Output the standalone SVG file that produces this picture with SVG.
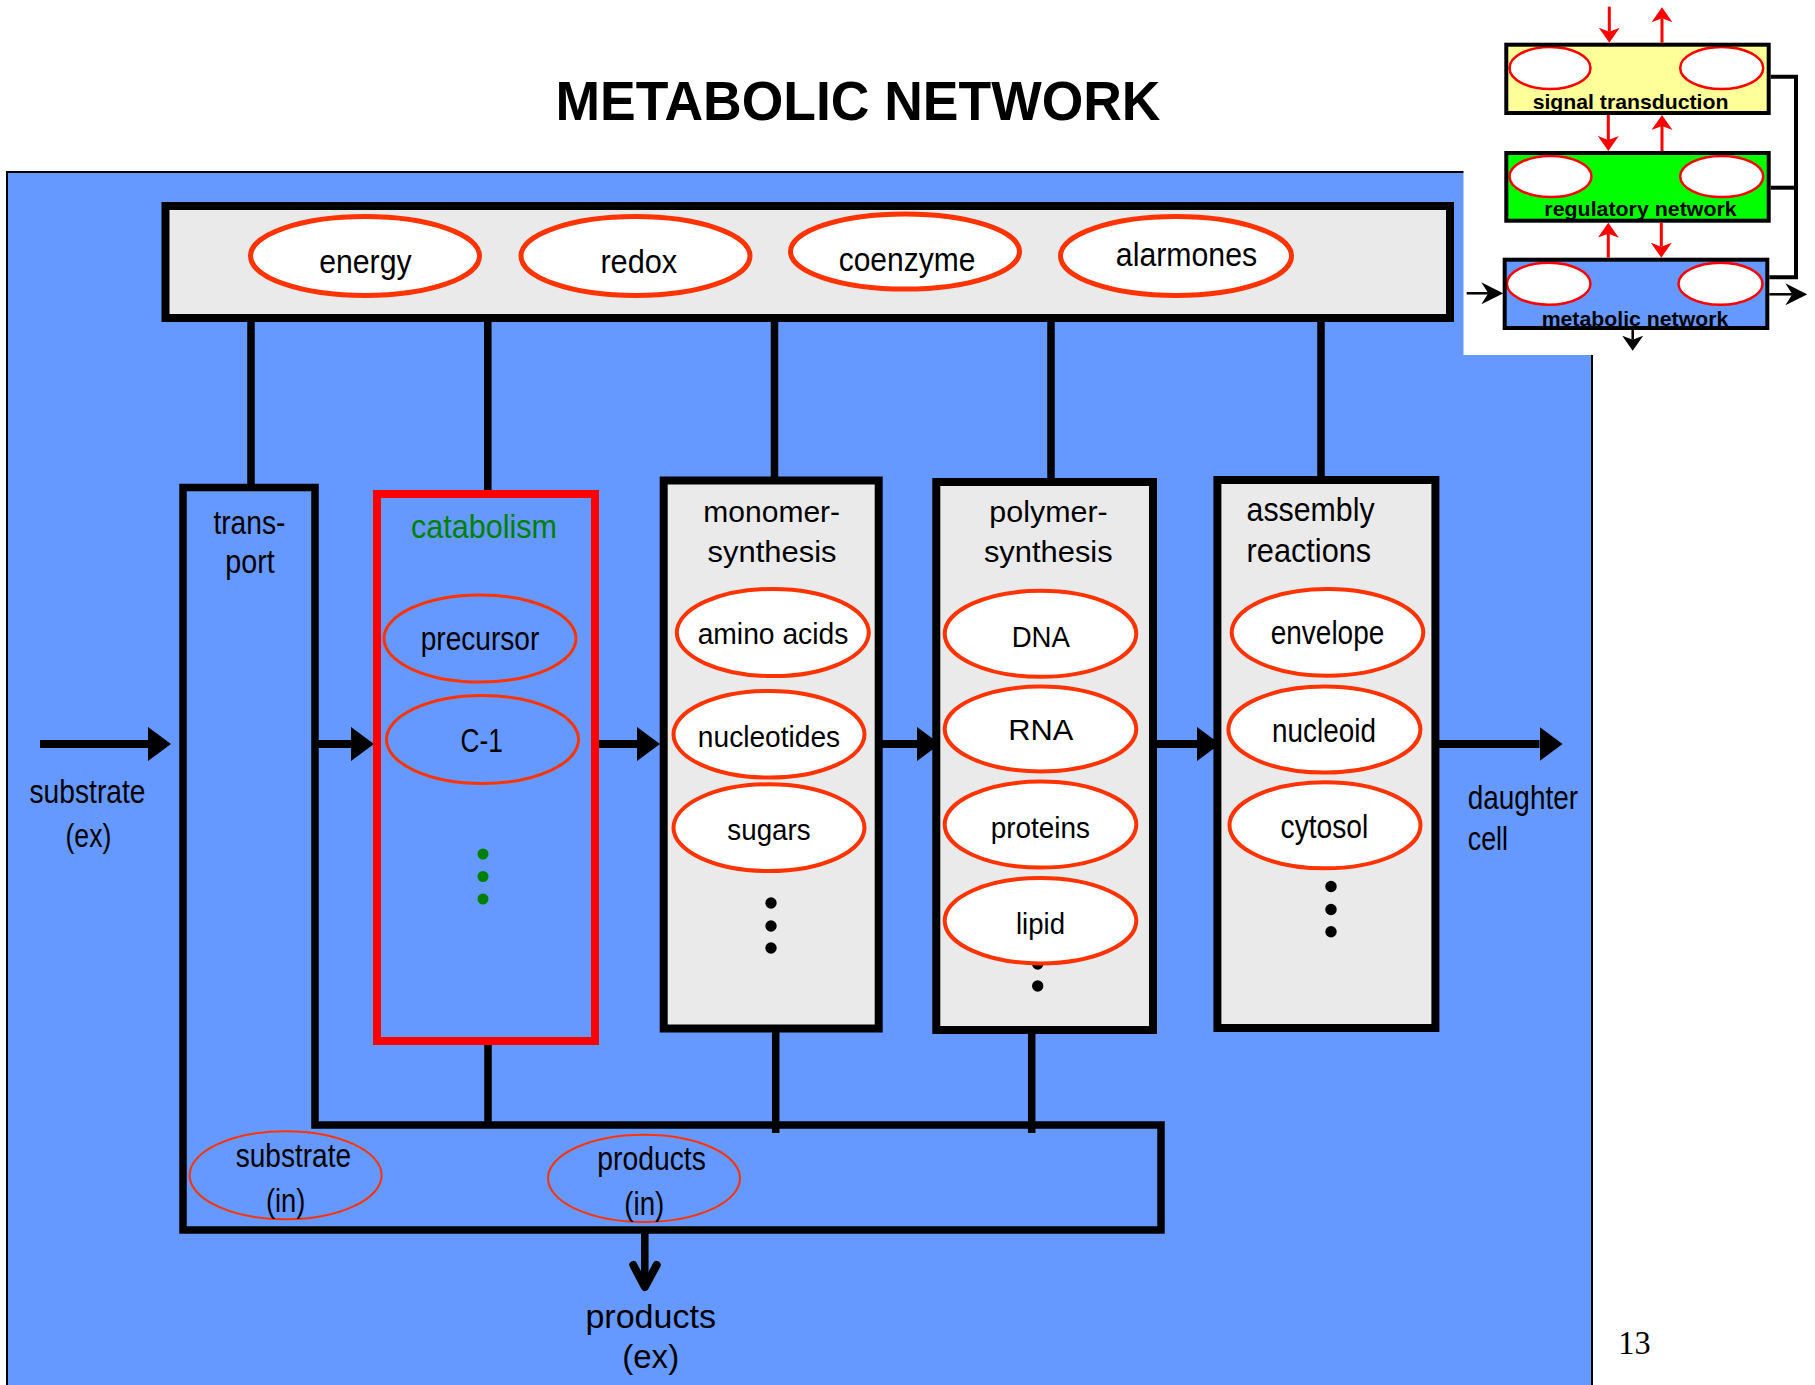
<svg xmlns="http://www.w3.org/2000/svg" width="1815" height="1385" viewBox="0 0 1815 1385">
<defs>
<style>
.lbl{font-family:"Liberation Sans",Arial,sans-serif;font-size:30px;fill:#000;text-anchor:middle}
.cnd{font-size:34px}
.lft{text-anchor:start}
.grn{fill:#008000}
.ln{stroke:#000;stroke-width:7.5;fill:none}
.box{fill:#EAEAEA;stroke:#000;stroke-width:8}
.ov{fill:#fff;stroke:#FF3300;stroke-width:4}
.ovt{fill:#fff;stroke:#FF3300;stroke-width:5}
.ovn{fill:none;stroke:#FF3300;stroke-width:3}
.ovb{fill:none;stroke:#FF3300;stroke-width:2}
.dot{fill:#000}
.gdot{fill:#008000}
.arr{stroke:#000;stroke-width:8;fill:none;marker-end:url(#ah)}
.ra{stroke:#FF0000;stroke-width:3;fill:none;marker-end:url(#rh)}
.ba{stroke:#000;stroke-width:2.5;fill:none;marker-end:url(#bh)}
.bs{stroke:#000;stroke-width:2.5;fill:none;marker-end:url(#bsh)}
.ib{stroke:#000;stroke-width:4;fill:none}
.iov{fill:#fff;stroke:#FF0000;stroke-width:2.5}
.it{font-family:"Liberation Sans",Arial,sans-serif;font-weight:bold;font-size:21px;text-anchor:middle;fill:#000}
</style>
<marker id="ah" viewBox="0 0 23 34" refX="0" refY="17" markerWidth="23" markerHeight="34" orient="auto" markerUnits="userSpaceOnUse"><path d="M0,0 L23,17 L0,34 Z" fill="#000"/></marker>
<marker id="rh" viewBox="0 0 15 21" refX="4" refY="10.5" markerWidth="15" markerHeight="21" orient="auto" markerUnits="userSpaceOnUse"><path d="M0,0 L15,10.5 L0,21 L4,10.5 Z" fill="#FF0000"/></marker>
<marker id="bh" viewBox="0 0 22 22" refX="7" refY="11" markerWidth="22" markerHeight="22" orient="auto" markerUnits="userSpaceOnUse"><path d="M0,0 L22,11 L0,22 L7,11 Z" fill="#000"/></marker>
<marker id="bsh" viewBox="0 0 15 21" refX="4" refY="10.5" markerWidth="15" markerHeight="21" orient="auto" markerUnits="userSpaceOnUse"><path d="M0,0 L15,10.5 L0,21 L4,10.5 Z" fill="#000"/></marker>
</defs>

<rect x="0" y="0" width="1815" height="1385" fill="#fff"/>
<g id="background">
<rect x="7" y="172" width="1585" height="1240" fill="#6699FF" stroke="#000" stroke-width="2"/>
<rect x="1463.5" y="0" width="352" height="355" fill="#fff"/>
</g>

<text id="title" x="858" y="120" font-family="'Liberation Sans',Arial,sans-serif" font-weight="bold" font-size="56" text-anchor="middle" textLength="605" lengthAdjust="spacingAndGlyphs">METABOLIC NETWORK</text>

<g id="connectors">
<line class="ln" x1="251" y1="320" x2="251" y2="485"/>
<line class="ln" x1="487.8" y1="320" x2="487.8" y2="491"/>
<line class="ln" x1="774.5" y1="320" x2="774.5" y2="478"/>
<line class="ln" x1="1051" y1="320" x2="1051" y2="480"/>
<line class="ln" x1="1321" y1="320" x2="1321" y2="478"/>
<line class="ln" x1="488" y1="1043" x2="488" y2="1125"/>
<line class="ln" x1="775.7" y1="1030" x2="775.7" y2="1133"/>
<line class="ln" x1="1031.7" y1="1032" x2="1031.7" y2="1133"/>
<line class="arr" x1="40" y1="744" x2="148" y2="744"/>
<line class="arr" x1="315" y1="744" x2="351" y2="744"/>
<line class="arr" x1="599" y1="744" x2="637" y2="744"/>
<line class="arr" x1="882" y1="744" x2="917" y2="744"/>
<line class="arr" x1="1157" y1="744" x2="1197" y2="744"/>
<line class="arr" x1="1439" y1="744" x2="1539.5" y2="744"/>
<line class="ln" x1="644.8" y1="1232" x2="644.8" y2="1284" stroke-width="8"/>
<polyline points="633.3,1265 644.8,1287 656.7,1265" fill="none" stroke="#000" stroke-width="8" stroke-linecap="round" stroke-linejoin="round"/>
</g>

<g id="cofactors">
<rect class="box" x="165.5" y="206" width="1284.5" height="112"/>
<ellipse class="ovt" cx="365" cy="256" rx="114.5" ry="39.5"/>
<text class="lbl cnd" x="365.4" y="273.3" textLength="92.4" lengthAdjust="spacingAndGlyphs">energy</text>
<ellipse class="ovt" cx="635.5" cy="256" rx="114.5" ry="39.5"/>
<text class="lbl cnd" x="638.8" y="273.3" textLength="76.8" lengthAdjust="spacingAndGlyphs">redox</text>
<ellipse class="ovt" cx="905" cy="251.5" rx="114.5" ry="37.5"/>
<text class="lbl cnd" x="907" y="271" textLength="136.7" lengthAdjust="spacingAndGlyphs">coenzyme</text>
<ellipse class="ovt" cx="1176" cy="256" rx="115.5" ry="39.5"/>
<text class="lbl cnd" x="1186.5" y="266" textLength="141.3" lengthAdjust="spacingAndGlyphs">alarmones</text>
</g>

<g id="transport">
<path d="M183,487.5 H315 V1125 H1161 V1230 H183 Z" fill="none" stroke="#000" stroke-width="7.5"/>
<text class="lbl cnd" x="249.4" y="534" textLength="72" lengthAdjust="spacingAndGlyphs">trans-</text>
<text class="lbl cnd" x="250" y="573" textLength="49.4" lengthAdjust="spacingAndGlyphs">port</text>
</g>

<g id="catabolism">
<rect x="377" y="494" width="218" height="547" fill="none" stroke="#FF0000" stroke-width="8"/>
<text class="lbl cnd grn" x="484" y="538" textLength="146" lengthAdjust="spacingAndGlyphs">catabolism</text>
<ellipse class="ovn" cx="480" cy="638.5" rx="96" ry="43.5"/>
<text class="lbl cnd" x="480" y="650" textLength="118.6" lengthAdjust="spacingAndGlyphs">precursor</text>
<ellipse class="ovn" cx="482.5" cy="739.5" rx="96" ry="44"/>
<text class="lbl cnd" x="481.6" y="752" textLength="42.3" lengthAdjust="spacingAndGlyphs">C-1</text>
<circle class="gdot" cx="483" cy="854" r="5.5"/>
<circle class="gdot" cx="483" cy="876.5" r="5.5"/>
<circle class="gdot" cx="483" cy="899" r="5.5"/>
</g>

<g id="monomer-synthesis">
<rect class="box" x="663.7" y="480.5" width="215" height="548"/>
<text class="lbl" x="771.7" y="521.7" textLength="136.7" lengthAdjust="spacingAndGlyphs">monomer-</text>
<text class="lbl" x="772" y="562" textLength="129" lengthAdjust="spacingAndGlyphs">synthesis</text>
<ellipse class="ov" cx="772.8" cy="632.5" rx="96" ry="43.6"/>
<text class="lbl" x="773" y="644.3" textLength="150.7" lengthAdjust="spacingAndGlyphs">amino acids</text>
<ellipse class="ov" cx="769" cy="734.3" rx="95.5" ry="43.3"/>
<text class="lbl" x="769" y="746.6" textLength="142.3" lengthAdjust="spacingAndGlyphs">nucleotides</text>
<ellipse class="ov" cx="769" cy="827.7" rx="95.5" ry="43.4"/>
<text class="lbl" x="769" y="839.7" textLength="83.3" lengthAdjust="spacingAndGlyphs">sugars</text>
<circle class="dot" cx="771" cy="903" r="5.7"/>
<circle class="dot" cx="771" cy="926" r="5.7"/>
<circle class="dot" cx="771" cy="948" r="5.7"/>
</g>

<g id="polymer-synthesis">
<rect class="box" x="936.3" y="482" width="216.7" height="548"/>
<text class="lbl" x="1048.5" y="521.7" textLength="118.3" lengthAdjust="spacingAndGlyphs">polymer-</text>
<text class="lbl" x="1048.3" y="562" textLength="128.7" lengthAdjust="spacingAndGlyphs">synthesis</text>
<circle class="dot" cx="1037.7" cy="942" r="5.7"/>
<circle class="dot" cx="1037.7" cy="964" r="5.7"/>
<circle class="dot" cx="1037.7" cy="986" r="5.7"/>
<ellipse class="ov" cx="1040.5" cy="633.8" rx="95.8" ry="43"/>
<text class="lbl" x="1040.8" y="647" textLength="58.3" lengthAdjust="spacingAndGlyphs">DNA</text>
<ellipse class="ov" cx="1040.5" cy="729" rx="95.8" ry="42.4"/>
<text class="lbl" x="1040.8" y="740" textLength="65" lengthAdjust="spacingAndGlyphs">RNA</text>
<ellipse class="ov" cx="1040.5" cy="824.6" rx="95.8" ry="43"/>
<text class="lbl" x="1040.3" y="837.8" textLength="99.3" lengthAdjust="spacingAndGlyphs">proteins</text>
<ellipse class="ov" cx="1040.5" cy="920.7" rx="95.8" ry="42.7"/>
<text class="lbl" x="1040.5" y="933.6" textLength="49" lengthAdjust="spacingAndGlyphs">lipid</text>
</g>

<g id="assembly-reactions">
<rect class="box" x="1217.4" y="480" width="218" height="548"/>
<text class="lbl cnd lft" x="1246.6" y="521" textLength="128" lengthAdjust="spacingAndGlyphs">assembly</text>
<text class="lbl cnd lft" x="1246.6" y="562" textLength="124.6" lengthAdjust="spacingAndGlyphs">reactions</text>
<ellipse class="ov" cx="1327.5" cy="632.3" rx="95.8" ry="43.4"/>
<text class="lbl cnd" x="1327.5" y="644.3" textLength="113.5" lengthAdjust="spacingAndGlyphs">envelope</text>
<ellipse class="ov" cx="1324.4" cy="729.6" rx="96" ry="43"/>
<text class="lbl cnd" x="1324" y="742" textLength="103.8" lengthAdjust="spacingAndGlyphs">nucleoid</text>
<ellipse class="ov" cx="1325" cy="825.3" rx="95.5" ry="43"/>
<text class="lbl cnd" x="1324.4" y="837.8" textLength="87.7" lengthAdjust="spacingAndGlyphs">cytosol</text>
<circle class="dot" cx="1331" cy="886.5" r="5.7"/>
<circle class="dot" cx="1331" cy="909.5" r="5.7"/>
<circle class="dot" cx="1331" cy="931.7" r="5.7"/>
</g>

<g id="substrate-ex">
<text class="lbl cnd" x="87.5" y="803" textLength="116" lengthAdjust="spacingAndGlyphs">substrate</text>
<text class="lbl cnd" x="88.4" y="847.4" textLength="46" lengthAdjust="spacingAndGlyphs">(ex)</text>
</g>

<g id="daughter-cell">
<text class="lbl cnd lft" x="1467.8" y="809" textLength="110.2" lengthAdjust="spacingAndGlyphs">daughter</text>
<text class="lbl cnd lft" x="1467.8" y="850" textLength="40.2" lengthAdjust="spacingAndGlyphs">cell</text>
</g>

<g id="substrate-in">
<ellipse class="ovb" cx="285.6" cy="1175.3" rx="96" ry="44"/>
<text class="lbl cnd" x="293.4" y="1167.3" textLength="115.3" lengthAdjust="spacingAndGlyphs">substrate</text>
<text class="lbl cnd" x="285.7" y="1211.7" textLength="39.5" lengthAdjust="spacingAndGlyphs">(in)</text>
</g>

<g id="products-in">
<ellipse class="ovb" cx="644" cy="1178.3" rx="96" ry="43.6"/>
<text class="lbl cnd" x="651.6" y="1170" textLength="108.5" lengthAdjust="spacingAndGlyphs">products</text>
<text class="lbl cnd" x="644.3" y="1215" textLength="40" lengthAdjust="spacingAndGlyphs">(in)</text>
</g>

<g id="products-ex">
<text class="lbl cnd" x="650.7" y="1328.3" textLength="130.6" lengthAdjust="spacingAndGlyphs">products</text>
<text class="lbl cnd" x="650.7" y="1368.3" textLength="56.9" lengthAdjust="spacingAndGlyphs">(ex)</text>
</g>

<g id="inset">
<g id="inset-connectors">
<polyline class="ib" points="1770.7,76.7 1796,76.7 1796,277.3 1769.3,277.3" stroke-width="2.5"/>
<line class="ib" x1="1770.7" y1="187.7" x2="1796" y2="187.7" stroke-width="2.5"/>
</g>
<g id="signal-transduction">
<rect x="1506.3" y="44.7" width="262.4" height="68.3" fill="#FFFF99"/>
<ellipse class="iov" cx="1550" cy="68" rx="40.5" ry="21"/>
<ellipse class="iov" cx="1721.7" cy="68" rx="41.5" ry="21"/>
<text class="it" x="1630.5" y="109.3" textLength="195.7" lengthAdjust="spacingAndGlyphs">signal transduction</text>
<rect class="ib" x="1506.3" y="44.7" width="262.4" height="68.3"/>
</g>
<g id="regulatory-network">
<rect x="1506.3" y="153" width="262.4" height="67.7" fill="#00FF00"/>
<ellipse class="iov" cx="1550.5" cy="176.5" rx="41" ry="20.6"/>
<ellipse class="iov" cx="1721.7" cy="176.5" rx="41.5" ry="20.6"/>
<text class="it" x="1640.5" y="215.7" textLength="192.3" lengthAdjust="spacingAndGlyphs">regulatory network</text>
<rect class="ib" x="1506.3" y="153" width="262.4" height="67.7"/>
</g>
<g id="metabolic-network">
<rect x="1504.7" y="259.7" width="262.6" height="68.3" fill="#6699FF"/>
<ellipse class="iov" cx="1548.7" cy="283.7" rx="41.8" ry="21"/>
<ellipse class="iov" cx="1720.5" cy="283.7" rx="42" ry="21"/>
<text class="it" x="1635" y="326" textLength="186.7" lengthAdjust="spacingAndGlyphs">metabolic network</text>
<rect class="ib" x="1504.7" y="259.7" width="262.6" height="68.3"/>
</g>
<g id="inset-arrows">
<line class="ra" x1="1609.3" y1="6.7" x2="1609.3" y2="31.7"/>
<line class="ra" x1="1662" y1="42.7" x2="1662" y2="18.3"/>
<line class="ra" x1="1608.3" y1="115" x2="1608.3" y2="140"/>
<line class="ra" x1="1662" y1="151" x2="1662" y2="126"/>
<line class="ra" x1="1608.3" y1="257.7" x2="1608.3" y2="233.7"/>
<line class="ra" x1="1661.3" y1="222.7" x2="1661.3" y2="246.7"/>
<line class="ba" x1="1466.7" y1="293.3" x2="1488.3" y2="293.3"/>
<line class="ba" x1="1769.3" y1="294.3" x2="1792.3" y2="294.3"/>
<line class="bs" x1="1632.7" y1="330" x2="1632.7" y2="339.7"/>
</g>
</g>

<text id="page-number" x="1618.3" y="1354" font-family="'Liberation Serif','Times New Roman',serif" font-size="34" textLength="32.3" lengthAdjust="spacingAndGlyphs">13</text>
</svg>
